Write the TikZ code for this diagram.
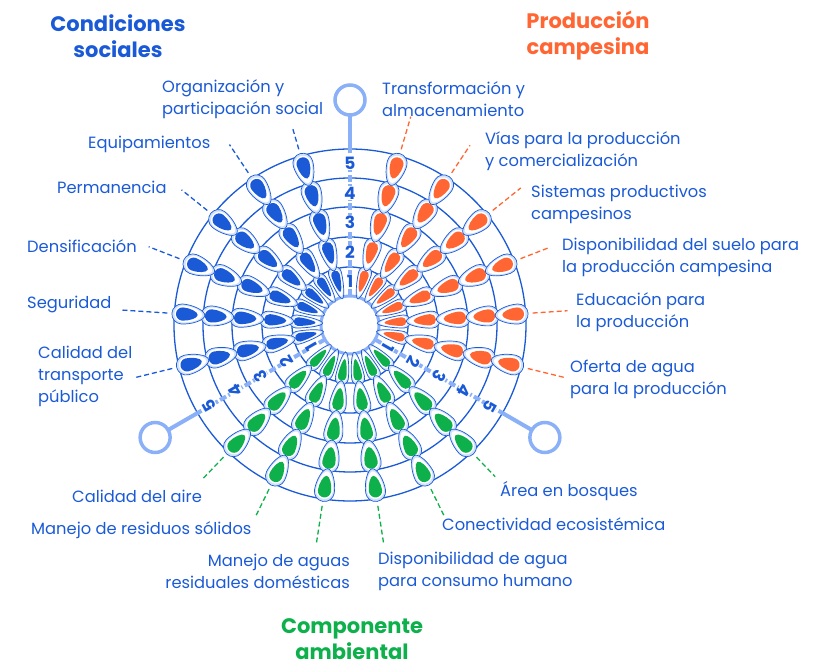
\documentclass[tikz,border=0pt]{standalone}
\usepackage{fontspec}
\setmainfont{Poppins}
\definecolor{mblue}{HTML}{1A5AD7}
\definecolor{morange}{HTML}{FF6633}
\definecolor{mgreen}{HTML}{0DB04B}
\definecolor{lblue}{HTML}{8AB0F8}
\definecolor{rim}{HTML}{D2E2FB}
\newcommand{\tdrop}[3]{%
  \filldraw[fill=rim,draw=mblue,line width=0.7pt] (-#1/2,0) .. controls (-#1/2,#2/4) and ({#1/2-#2},#2/2) .. ({#1/2-#2/2},#2/2) arc[start angle=90,end angle=-90,radius=#2/2] .. controls ({#1/2-#2},-#2/2) and (-#1/2,-#2/4) .. cycle;
  \begin{scope}[scale=0.84]
  \fill[white] (-#1/2,0) .. controls (-#1/2,#2/4) and ({#1/2-#2},#2/2) .. ({#1/2-#2/2},#2/2) arc[start angle=90,end angle=-90,radius=#2/2] .. controls ({#1/2-#2},-#2/2) and (-#1/2,-#2/4) .. cycle;
  \end{scope}
  \begin{scope}[xshift=1.5pt,scale=0.66]
  \fill[#3] (-#1/2,0) .. controls (-#1/2,#2/4) and ({#1/2-#2},#2/2) .. ({#1/2-#2/2},#2/2) arc[start angle=90,end angle=-90,radius=#2/2] .. controls ({#1/2-#2},-#2/2) and (-#1/2,-#2/4) .. cycle;
  \end{scope}}
\tikzset{
  ring/.style={draw=mblue,line width=1.3pt},
  axisline/.style={draw=lblue,line width=4pt},
  markcirc/.style={circle,draw=lblue,line width=3.5pt,fill=white,minimum size=30pt,inner sep=0pt},
  digit/.style={fill=white,inner sep=0.6pt,text=mblue,font=\fontsize{17}{17}\selectfont\bfseries},
  lab/.style={inner sep=0pt,text=mblue,font=\fontsize{16.3}{22}\selectfont},
  ttl/.style={inner sep=0pt,align=center,font=\fontsize{21}{26}\selectfont\bfseries},
  leader/.style={line width=1.3pt,dash pattern=on 5pt off 3pt}
}
\begin{document}
\begin{tikzpicture}[x=1pt,y=1pt]
\useasboundingbox (-350,-343) rectangle (471,325);
% rings
\foreach \r in {58,88,118,147,176} \draw[ring] (0,0) circle (\r);
% axes
\foreach \a/\rot in {90/0,210/120,330/-120} {
  \draw[axisline,dash pattern=on 7pt off 2.5pt] (\a:29) -- (\a:176);
  \draw[axisline] (\a:176) -- (\a:211);
  \node[markcirc] (m\a) at (\a:225) {};
  \foreach \d/\rr in {1/44,2/73,3/103,4/132,5/162}
    \node[digit,rotate=\rot] (d\a-\d) at (\a:\rr) {\d};
}
% hub
\node[circle,fill=white,draw=lblue,line width=3pt,minimum size=58pt,inner sep=0pt] (hub) at (0,0) {};
% drops
\foreach \col/\start/\stp in {mblue/106.25/17.5, morange/73.75/-17.5, mgreen/226.25/17.5} {
  \foreach \i in {0,...,5} {
    \pgfmathsetmacro\ang{\start+\i*\stp}
    \foreach \ri/\ro/\w in {29/58/13, 58/88/17, 88/118/19, 118/147/20, 147/176/20} {
      \pgfmathsetmacro\rc{(\ri+\ro)/2+0.5}
      \pgfmathsetmacro\L{\ro-\ri+4}
      \begin{scope}[shift={(\ang:\rc)},rotate=\ang]
        \tdrop{\L}{\w}{\col}
      \end{scope}
    }
  }
}
% titles
\node[ttl,text=mblue] (t1) at (-232,289) {Condiciones\\sociales};
\node[ttl,text=morange] (t2) at (238,289) {Producción\\campesina};
\node[ttl,text=mgreen] (t3) at (2,-314) {Componente\\ambiental};
% labels blue sector
\node[lab,anchor=west,align=left] (b1) at (-188,226) {Organización y\\participación social};
\node[lab,anchor=west] (b2) at (-262,181) {Equipamientos};
\node[lab,anchor=west] (b3) at (-293,138) {Permanencia};
\node[lab,anchor=west] (b4) at (-323,79) {Densificación};
\node[lab,anchor=west] (b5) at (-323,20) {Seguridad};
\node[lab,anchor=west,align=left] (b6) at (-312,-51) {Calidad del\\transporte\\público};
% labels orange sector
\node[lab,anchor=west,align=left] (o1) at (32,226) {Transformación y\\almacenamiento};
\node[lab,anchor=west,align=left] (o2) at (135,174) {Vías para la producción\\y comercialización};
\node[lab,anchor=west,align=left] (o3) at (181,121) {Sistemas productivos\\campesinos};
\node[lab,anchor=west,align=left] (o4) at (212,68) {Disponibilidad del suelo para\\la producción campesina};
\node[lab,anchor=west,align=left] (o5) at (226,13) {Educación para\\la producción};
\node[lab,anchor=west,align=left] (o6) at (220,-54) {Oferta de agua\\para la producción};
% labels green sector
\node[lab,anchor=west] (g1) at (150,-166) {Área en bosques};
\node[lab,anchor=west] (g2) at (92,-199) {Conectividad ecosistémica};
\node[lab,anchor=west,align=left] (g3) at (28,-246) {Disponibilidad de agua\\para consumo humano};
\node[lab,anchor=east,align=right] (g4) at (0,-246) {Manejo de aguas\\residuales domésticas};
\node[lab,anchor=west] (g5) at (-319,-205) {Manejo de residuos sólidos};
\node[lab,anchor=west] (g6) at (-278,-171) {Calidad del aire};
% leaders
\foreach \n/\col/\ang/\re in {
  lb1/mblue/106.25/206, lb2/mblue/123.75/217, lb3/mblue/141.25/216, lb4/mblue/158.75/216, lb5/mblue/176.25/228, lb6/mblue/193.75/221,
  lo1/morange/73.75/217, lo2/morange/56.25/216, lo3/morange/38.75/219, lo4/morange/21.25/214, lo5/morange/3.75/218, lo6/morange/-13.75/222,
  lg1/mgreen/313.75/210, lg2/mgreen/296.25/213, lg3/mgreen/278.75/222, lg4/mgreen/261.25/222, lg5/mgreen/243.75/213, lg6/mgreen/226.25/215} {
  \coordinate (\n s) at (\ang:183);
  \coordinate (\n e) at (\ang:\re);
  \draw[leader,draw=\col] (\n s) -- (\n e);
}
\end{tikzpicture}
\end{document}
